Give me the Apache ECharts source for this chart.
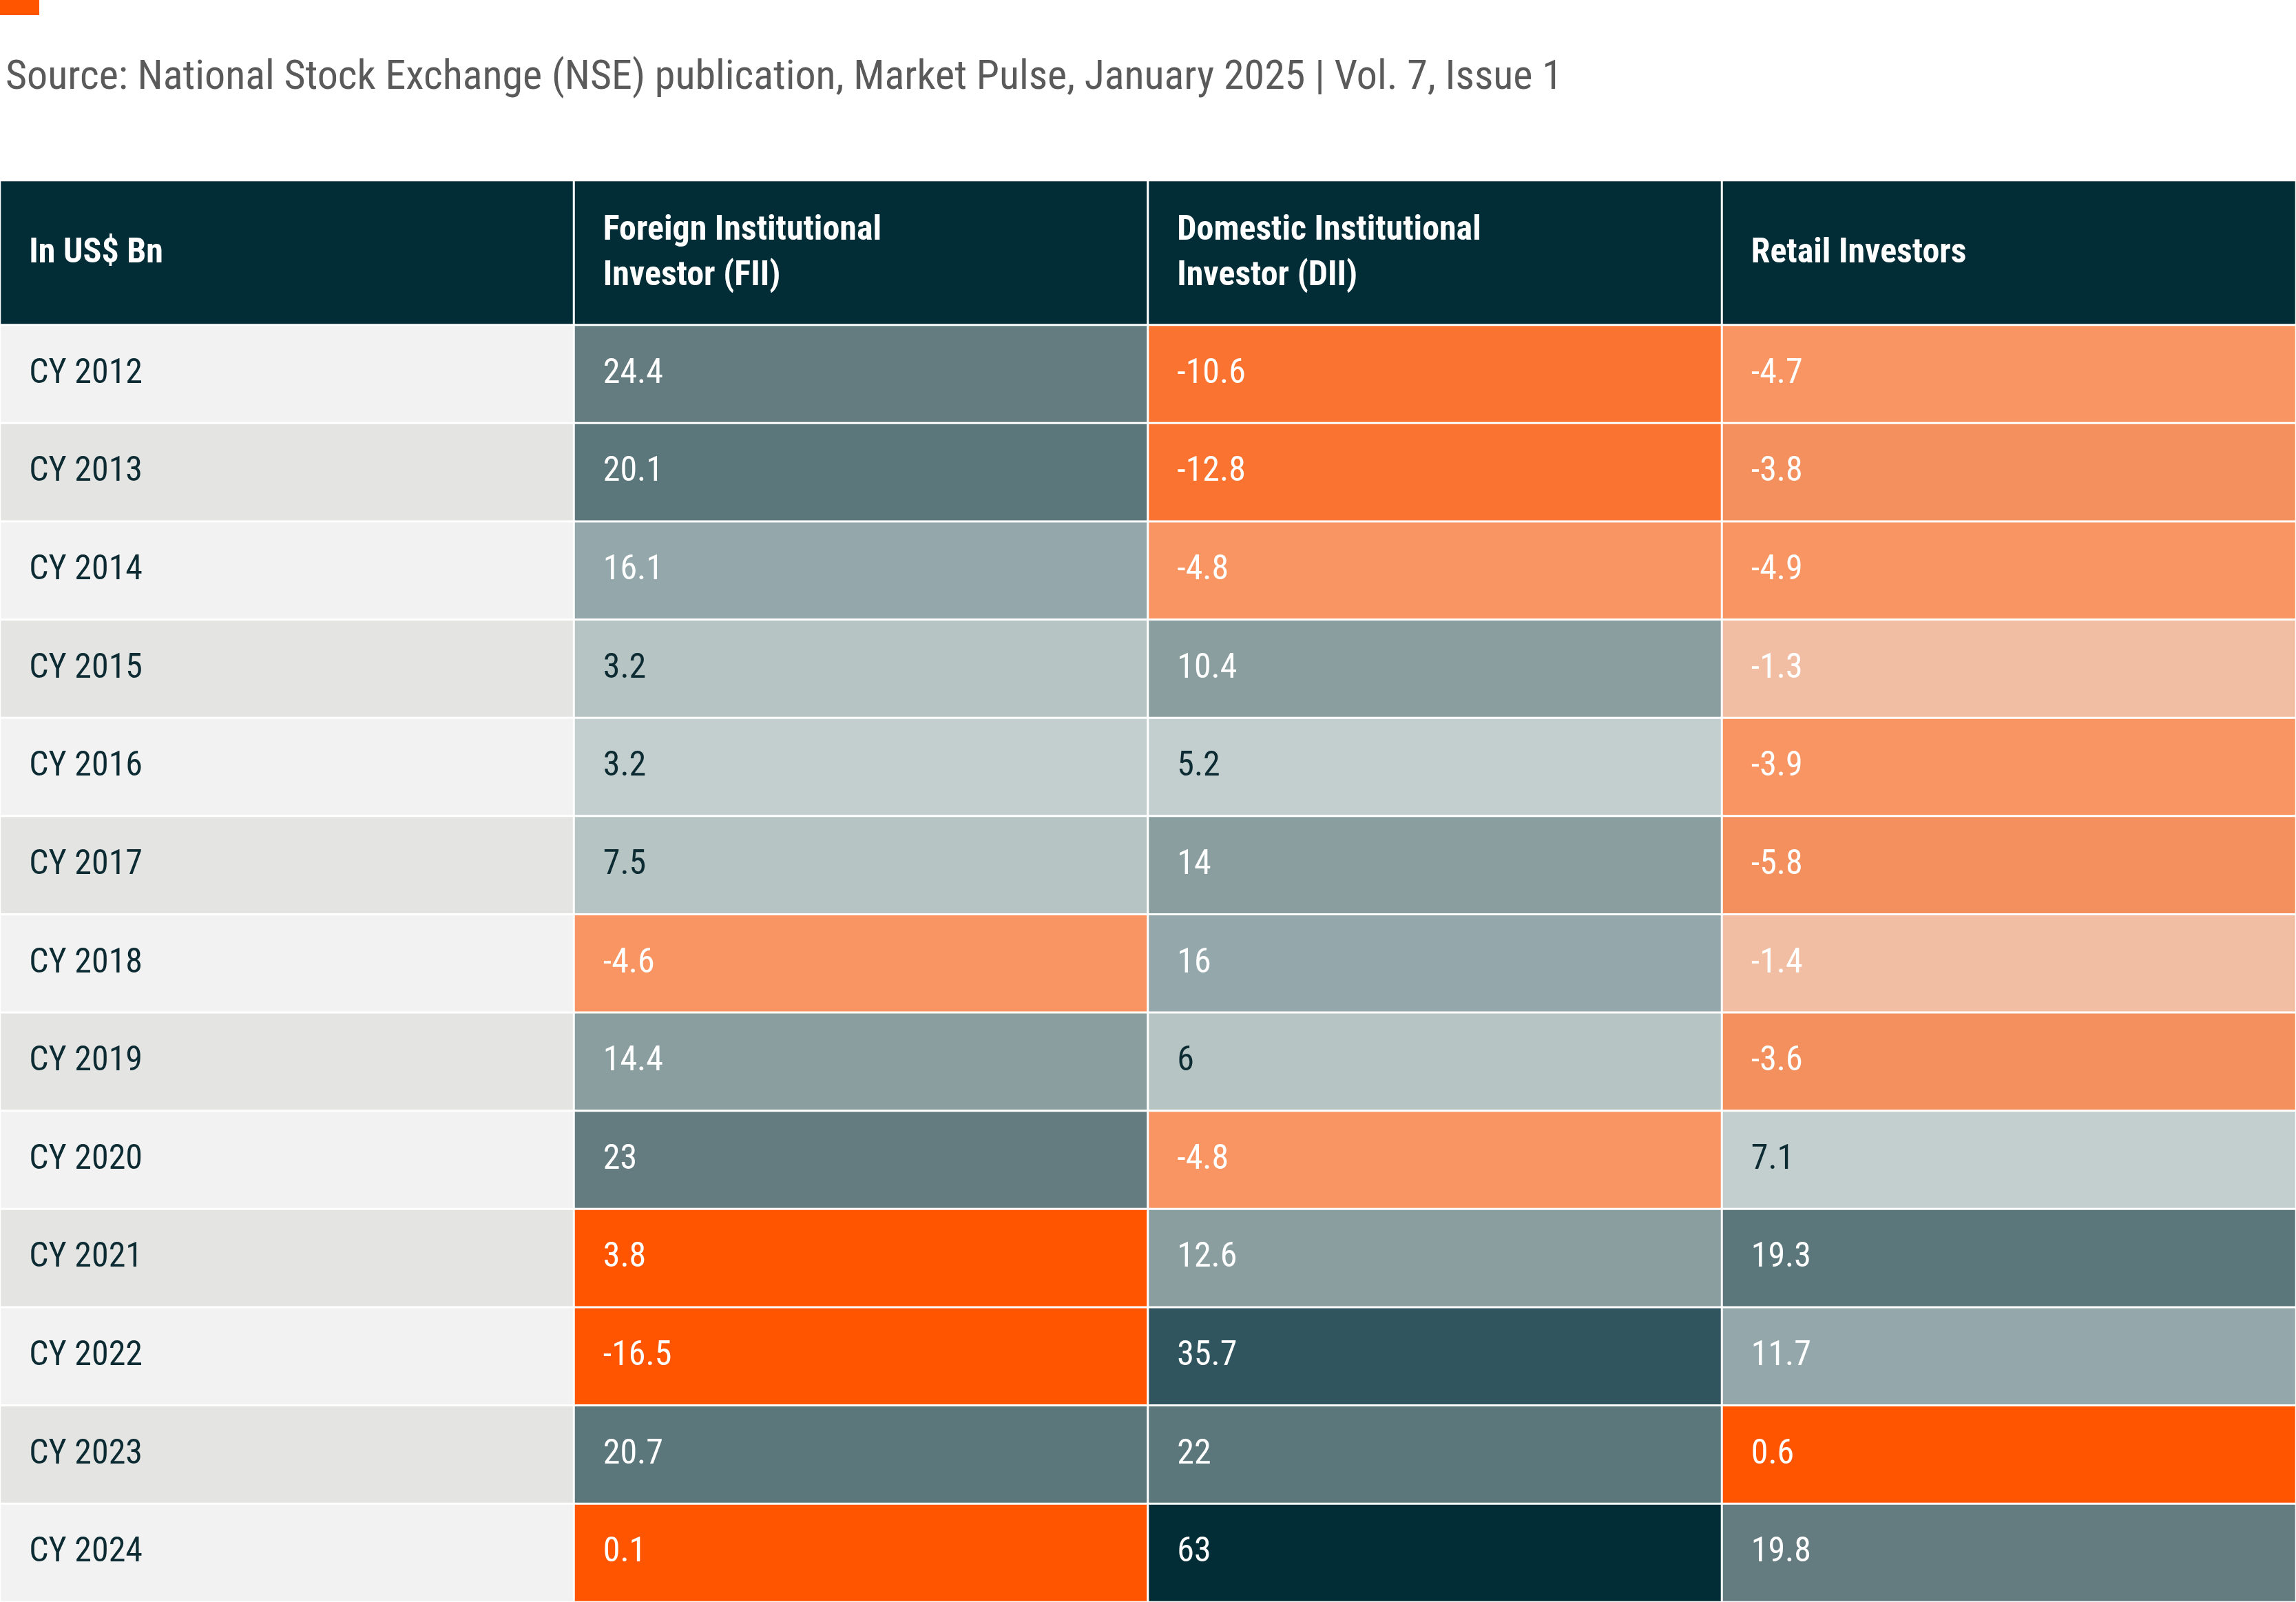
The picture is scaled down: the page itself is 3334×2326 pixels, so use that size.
<!DOCTYPE html>
<html>
<head>
<meta charset="utf-8">
<script src="https://cdn.jsdelivr.net/npm/echarts@6/dist/echarts.min.js"></script>
<style>
  html, body { margin: 0; padding: 0; background: #fff; }
  #chart { width: 3334px; height: 2326px; }
</style>
</head>
<body>
<div id="chart"></div>
<script>
// table data
const headers = ['In US$ Bn', 'Foreign Institutional\nInvestor (FII)', 'Domestic Institutional\nInvestor (DII)', 'Retail Investors']
const years = ['CY 2012', 'CY 2013', 'CY 2014', 'CY 2015', 'CY 2016', 'CY 2017', 'CY 2018',
  'CY 2019', 'CY 2020', 'CY 2021', 'CY 2022', 'CY 2023', 'CY 2024']
const fii = ['24.4', '20.1', '16.1', '3.2', '3.2', '7.5', '-4.6', '14.4', '23', '3.8', '-16.5', '20.7', '0.1']
const dii = ['-10.6', '-12.8', '-4.8', '10.4', '5.2', '14', '16', '6', '-4.8', '12.6', '35.7', '22', '63']
const retail = ['-4.7', '-3.8', '-4.9', '-1.3', '-3.9', '-5.8', '-1.4', '-3.6', '7.1', '19.3', '11.7', '0.6', '19.8']

// shading as used in the source (not a linear scale)
const fiiShade = ['#647c80', '#5b777b', '#94a7aa', '#b7c4c4', '#c3cfcf', '#b7c4c4', '#f89563',
  '#8a9ea0', '#647c80', '#ff5500', '#ff5500', '#5b777b', '#ff5500']
const diiShade = ['#fb7330', '#fb7330', '#f89563', '#8a9ea0', '#c3cfcf', '#8a9ea0', '#94a7aa',
  '#b7c4c4', '#f89563', '#8a9ea0', '#30555e', '#5b777b', '#022d36']
const retailShade = ['#f89563', '#f3905d', '#f89563', '#f2bea3', '#f89563', '#f3905d', '#f2bea3',
  '#f3905d', '#c3cfcf', '#5b777b', '#94a7aa', '#ff5500', '#647c80']

const lightCells = ['#b7c4c4', '#c3cfcf']
const font = '"Liberation Sans Narrow", "Roboto Condensed", "Roboto", sans-serif'
const colCats = headers.map((_, i) => String(i))

// header row
const headData = headers.map((h, c) => ({
  name: h,
  value: [c, 0, 1],
  itemStyle: { color: '#022d36' }
}))

// body
const bodyData = []
years.forEach((y, r) => {
  bodyData.push({
    name: y,
    value: [0, r, 1],
    itemStyle: { color: r % 2 === 0 ? '#f2f2f2' : '#e4e4e2' },
    label: { color: '#0d2b33' }
  })
  const cols = [[fii, fiiShade], [dii, diiShade], [retail, retailShade]]
  cols.forEach(([vals, shade], c) => {
    const col = shade[r]
    bodyData.push({
      name: vals[r],
      value: [c + 1, r, Number(vals[r])],
      itemStyle: { color: col },
      label: { color: lightCells.includes(col) ? '#0d2b33' : '#fff' }
    })
  })
})

const labelBase = {
  show: true,
  position: 'insideLeft',
  distance: 44,
  fontFamily: font,
  fontSize: 50,
  lineHeight: 66,
  formatter: p => p.name
}

const chart = echarts.init(document.getElementById('chart'))
chart.setOption({
  animation: false,
  graphic: [
    { type: 'rect', left: 0, top: 0, shape: { width: 57, height: 22 }, style: { fill: '#ff5500' } },
    {
      type: 'text', left: 8, top: 84,
      style: {
        text: 'Source: National Stock Exchange (NSE) publication, Market Pulse, January 2025 | Vol. 7, Issue 1',
        font: '60px ' + font, fill: '#5a5a5a'
      }
    }
  ],
  grid: [
    { left: 0, right: 0, top: 262, height: 212 },
    { left: 0, right: 0, top: 472, bottom: 0 }
  ],
  xAxis: [
    { type: 'category', data: colCats, show: false, gridIndex: 0 },
    { type: 'category', data: colCats, show: false, gridIndex: 1 }
  ],
  yAxis: [
    { type: 'category', data: ['h'], show: false, gridIndex: 0 },
    { type: 'category', data: years, inverse: true, show: false, gridIndex: 1 }
  ],
  series: [
    {
      type: 'heatmap',
      xAxisIndex: 0,
      yAxisIndex: 0,
      data: headData,
      itemStyle: { borderColor: '#fff', borderWidth: 3 },
      label: Object.assign({}, labelBase, { color: '#fff', fontWeight: 'bold' })
    },
    {
      type: 'heatmap',
      xAxisIndex: 1,
      yAxisIndex: 1,
      data: bodyData,
      itemStyle: { borderColor: '#fff', borderWidth: 3 },
      label: labelBase
    }
  ]
})
</script>
</body>
</html>
